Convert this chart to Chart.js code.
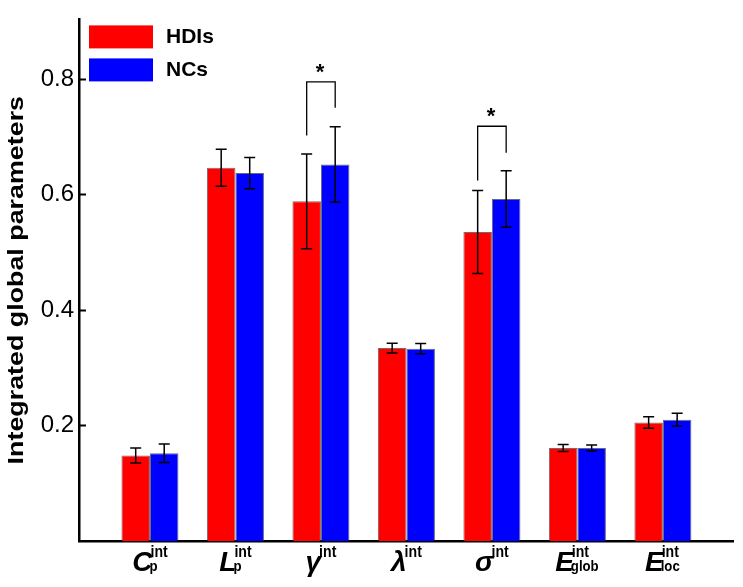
<!DOCTYPE html>
<html>
<head>
<meta charset="utf-8">
<script src="https://cdn.jsdelivr.net/npm/chart.js@4.4.1/dist/chart.umd.min.js"></script>
<style>
  html, body { margin: 0; padding: 0; background: #fff; }
  #wrap { width: 743px; height: 587px; }
</style>
</head>
<body>
<div id="wrap"><canvas id="barChart"></canvas></div>
<script>
const categories = ['C', 'L', 'γ', 'λ', 'σ', 'E', 'E'];
const subLabels = ['p', 'p', '', '', '', 'glob', 'loc'];
const supLabel = 'int';
const hdiValues = [0.148, 0.646, 0.588, 0.334, 0.535, 0.161, 0.205];
const hdiErrors = [0.013, 0.032, 0.082, 0.0085, 0.072, 0.006, 0.010];
const ncValues = [0.152, 0.637, 0.652, 0.333, 0.592, 0.161, 0.210];
const ncErrors = [0.016, 0.027, 0.065, 0.009, 0.049, 0.005, 0.011];
const yTicks = [0.2, 0.4, 0.6, 0.8];
const yTitle = 'Integrated global parameters';
// significance brackets: category index, top of bracket, bottom of left / right legs
const sigBrackets = [
    { cat: 2, top: 0.795, left: 0.702, right: 0.750 },
    { cat: 4, top: 0.718, left: 0.624, right: 0.672 },
];

const FONT = 'Arial, "Liberation Sans", sans-serif';

function toPoints(values) {
    return values.map((v, i) => ({ x: i + 1, y: v }));
}

// error bars on top of every bar
const errorBars = {
    id: 'errorBars',
    afterDatasetsDraw(chart) {
        const ctx = chart.ctx;
        const y = chart.scales.y;
        const errs = [hdiErrors, ncErrors];
        ctx.save();
        ctx.strokeStyle = '#000';
        ctx.lineWidth = 1.5;
        chart.data.datasets.forEach((ds, d) => {
            chart.getDatasetMeta(d).data.forEach((bar, i) => {
                const v = ds.data[i].y;
                const top = y.getPixelForValue(v + errs[d][i]);
                const bot = y.getPixelForValue(v - errs[d][i]);
                ctx.beginPath();
                ctx.moveTo(bar.x, top); ctx.lineTo(bar.x, bot);
                ctx.moveTo(bar.x - 5.5, top); ctx.lineTo(bar.x + 5.5, top);
                ctx.moveTo(bar.x - 5.5, bot); ctx.lineTo(bar.x + 5.5, bot);
                ctx.stroke();
            });
        });
        ctx.restore();
    }
};

// significance brackets with star
const brackets = {
    id: 'brackets',
    afterDatasetsDraw(chart) {
        const ctx = chart.ctx;
        const y = chart.scales.y;
        ctx.save();
        ctx.strokeStyle = '#000';
        ctx.lineWidth = 1.3;
        sigBrackets.forEach(b => {
            const x1 = chart.getDatasetMeta(0).data[b.cat].x;
            const x2 = chart.getDatasetMeta(1).data[b.cat].x;
            const yt = y.getPixelForValue(b.top);
            ctx.beginPath();
            ctx.moveTo(x1, y.getPixelForValue(b.left));
            ctx.lineTo(x1, yt);
            ctx.lineTo(x2, yt);
            ctx.lineTo(x2, y.getPixelForValue(b.right));
            ctx.stroke();
            ctx.fillStyle = '#000';
            ctx.font = 'bold 22px ' + FONT;
            ctx.textAlign = 'center';
            ctx.textBaseline = 'alphabetic';
            ctx.fillText('*', (x1 + x2) / 2 - 1, yt - 3);
        });
        ctx.restore();
    }
};

// draw text squeezed horizontally (the original labels are a bit narrow)
function narrowText(ctx, text, x, y, sx) {
    ctx.save();
    ctx.translate(x, y);
    ctx.scale(sx, 1);
    ctx.fillText(text, 0, 0);
    ctx.restore();
}

// inward tick marks on the y axis, axis title, legend, and the x category labels
const decorations = {
    id: 'decorations',
    afterDraw(chart) {
        const ctx = chart.ctx;
        const area = chart.chartArea;
        const x = chart.scales.x;
        const y = chart.scales.y;
        ctx.save();

        ctx.strokeStyle = '#000';
        ctx.lineWidth = 2;
        yTicks.forEach(t => {
            const py = Math.round(y.getPixelForValue(t)) + 0.5;
            ctx.beginPath();
            ctx.moveTo(area.left, py);
            ctx.lineTo(area.left + 7, py);
            ctx.stroke();
        });

        // y title, a little stretched along its length like the original
        ctx.save();
        ctx.translate(17, (area.top + area.bottom) / 2);
        ctx.rotate(-Math.PI / 2);
        ctx.scale(1.22, 1);
        ctx.fillStyle = '#000';
        ctx.font = 'bold 22px ' + FONT;
        ctx.textAlign = 'center';
        ctx.textBaseline = 'middle';
        ctx.fillText(yTitle, 0, 0);
        ctx.restore();

        // legend
        chart.data.datasets.forEach((ds, d) => {
            const bx = area.left + 10;
            const by = area.top + 6 + d * 33;
            ctx.fillStyle = ds.backgroundColor;
            ctx.fillRect(bx, by, 64, 23);
            ctx.fillStyle = '#000';
            ctx.font = 'bold 21px ' + FONT;
            ctx.textAlign = 'left';
            ctx.textBaseline = 'middle';
            ctx.fillText(ds.label, bx + 77, by + 12);
        });

        // x labels: italic symbol, "int" superscript, optional subscript
        const squeeze = 0.88;
        categories.forEach((c, i) => {
            const cx = x.getPixelForValue(i + 1);
            ctx.textBaseline = 'alphabetic';
            ctx.textAlign = 'left';
            ctx.font = 'italic bold 28px ' + FONT;
            const w1 = ctx.measureText(c).width;
            ctx.font = 'bold 16px ' + FONT;
            const wSup = ctx.measureText(supLabel).width * squeeze;
            ctx.font = 'bold 15px ' + FONT;
            const wSub = ctx.measureText(subLabels[i]).width * squeeze;
            const total = w1 - 2 + Math.max(wSup, wSub);
            const sx = cx - total / 2;
            ctx.fillStyle = '#000';
            ctx.font = 'italic bold 28px ' + FONT;
            ctx.fillText(c, sx, 571);
            ctx.font = 'bold 16px ' + FONT;
            narrowText(ctx, supLabel, sx + w1 - 2, 557, squeeze);
            if (subLabels[i]) {
                ctx.font = 'bold 15px ' + FONT;
                narrowText(ctx, subLabels[i], sx + w1 - 3, 571, squeeze);
            }
        });
        ctx.restore();
    }
};

const ctx = document.getElementById('barChart').getContext('2d');
const barChart = new Chart(ctx, {
    type: 'bar',
    data: {
        datasets: [
            {
                label: 'HDIs',
                data: toPoints(hdiValues),
                backgroundColor: '#ff0000',
                borderColor: 'rgba(70, 40, 40, 0.7)',
                borderWidth: 1,
            },
            {
                label: 'NCs',
                data: toPoints(ncValues),
                backgroundColor: '#0000ff',
                borderColor: 'rgba(40, 40, 70, 0.7)',
                borderWidth: 1,
            },
        ],
    },
    options: {
        responsive: true,
        maintainAspectRatio: false,
        animation: false,
        layout: { padding: { top: 8, right: 10, left: 0, bottom: 0 } },
        datasets: {
            bar: { categoryPercentage: 0.667, barPercentage: 1 },
        },
        plugins: {
            legend: { display: false },
            tooltip: { enabled: false },
        },
        scales: {
            x: {
                type: 'linear',
                offset: false,
                min: 0.17,
                max: 7.82,
                afterBuildTicks: scale => {
                    scale.ticks = categories.map((c, i) => ({ value: i + 1 }));
                },
                afterFit: scale => { scale.height = 46; },
                grid: { display: false, drawTicks: false, offset: false },
                ticks: { display: false },
                border: { display: true, color: '#000', width: 2.5 },
            },
            y: {
                min: 0,
                max: 0.903,
                afterBuildTicks: scale => {
                    scale.ticks = yTicks.map(v => ({ value: v }));
                },
                afterFit: scale => { scale.width = 79; },
                grid: { display: false, drawTicks: false },
                border: { display: true, color: '#000', width: 2.5 },
                ticks: {
                    color: '#000',
                    padding: 5,
                    font: { family: FONT, size: 24 },
                    callback: v => v.toFixed(1),
                },
            },
        },
    },
    plugins: [errorBars, brackets, decorations],
});
</script>
</body>
</html>
